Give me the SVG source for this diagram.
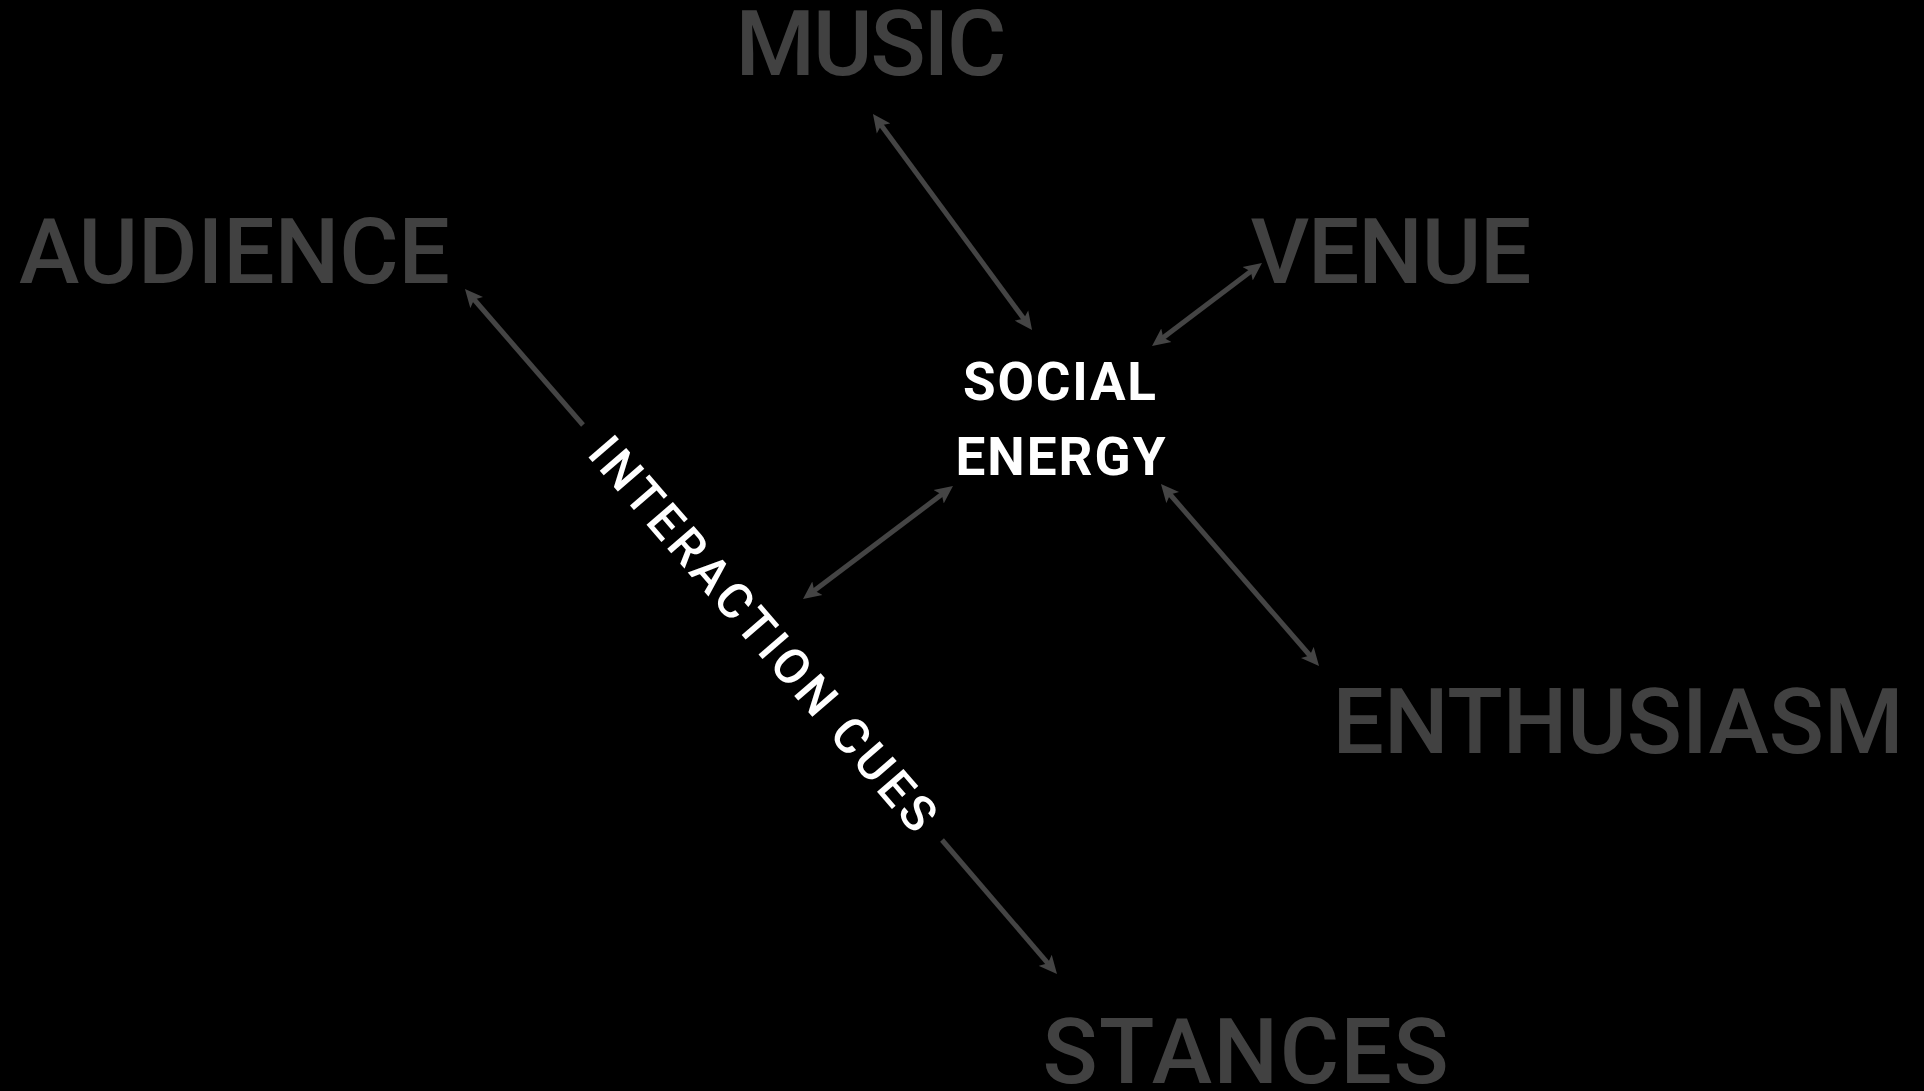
<svg xmlns="http://www.w3.org/2000/svg" width="1924" height="1091" viewBox="0 0 1924 1091">
  <style>
    .lbl { font-family: Roboto, "DejaVu Sans", sans-serif; font-weight: 500; font-size: 91px; fill: #414141; text-anchor: middle; }
    .core { font-family: Roboto, "DejaVu Sans", sans-serif; font-weight: 700; font-size: 53px; fill: #ffffff; text-anchor: middle; }
    .cues { font-family: Roboto, "DejaVu Sans", sans-serif; font-weight: 500; font-size: 49px; fill: #ffffff; text-anchor: middle; }
    .conn { stroke: #444444; stroke-width: 5; fill: none; stroke-linecap: butt; }
  </style>
  <defs>
    <marker id="arrow" viewBox="0 0 18 18" refX="10" refY="9" markerWidth="18" markerHeight="18" markerUnits="userSpaceOnUse" orient="auto-start-reverse">
      <path d="M0,0.5 L18,9 L0,17.5 L4,9 Z" fill="#444444"/>
    </marker>
  </defs>
  <rect x="0" y="0" width="1924" height="1091" fill="#000000"/>

  <g id="connectors">
    <line class="conn" x1="877.7" y1="120.4" x2="1027.3" y2="323.6" marker-start="url(#arrow)" marker-end="url(#arrow)"/>
    <line class="conn" x1="1158.4" y1="341.2" x2="1255.6" y2="267.8" marker-start="url(#arrow)" marker-end="url(#arrow)"/>
    <line class="conn" x1="1166.2" y1="490.0" x2="1313.8" y2="660.0" marker-start="url(#arrow)" marker-end="url(#arrow)"/>
    <line class="conn" x1="809.4" y1="594.2" x2="946.6" y2="490.8" marker-start="url(#arrow)" marker-end="url(#arrow)"/>
    <line class="conn" x1="583" y1="425" x2="470.2" y2="295.0" marker-end="url(#arrow)"/>
    <line class="conn" x1="942" y1="840" x2="1051.8" y2="967.9" marker-end="url(#arrow)"/>
  </g>

  <g id="node-music"><text class="lbl" x="871" y="75" textLength="271" lengthAdjust="spacing">MUSIC</text></g>
  <g id="node-audience"><text class="lbl" x="234.5" y="283" textLength="431" lengthAdjust="spacing">AUDIENCE</text></g>
  <g id="node-venue"><text class="lbl" x="1391" y="283" textLength="281" lengthAdjust="spacing">VENUE</text></g>
  <g id="node-enthusiasm"><text class="lbl" x="1618" y="753" textLength="571" lengthAdjust="spacing">ENTHUSIASM</text></g>
  <g id="node-stances"><text class="lbl" x="1245.5" y="1083" textLength="406" lengthAdjust="spacing">STANCES</text></g>
  <g id="node-social-energy">
    <text class="core" x="1059.5" y="400" textLength="193" lengthAdjust="spacing">SOCIAL</text>
    <text class="core" x="1060.5" y="475" textLength="210" lengthAdjust="spacing">ENERGY</text>
  </g>
  <g id="node-interaction-cues" transform="translate(762.4,634.4) rotate(49.2)">
    <text class="cues" x="0" y="16" textLength="503" lengthAdjust="spacing">INTERACTION CUES</text>
  </g>
</svg>
